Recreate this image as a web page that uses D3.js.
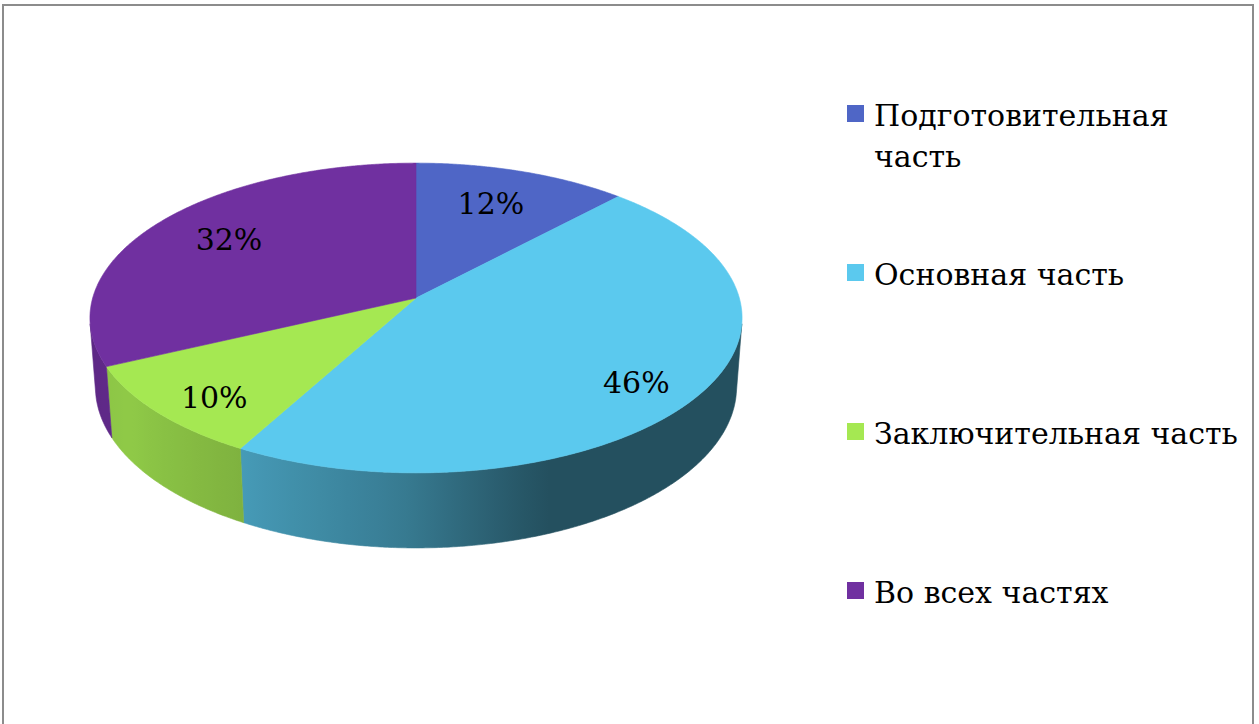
<!DOCTYPE html>
<html>
<head>
<meta charset="utf-8">
<script src="https://cdn.jsdelivr.net/npm/d3@7"></script>
<style>
  html, body { margin: 0; padding: 0; background: #fff; }
  svg { display: block; }
  text { font-family: "DejaVu Serif", serif; }
</style>
</head>
<body>
<svg id="chart" width="1259" height="724"></svg>
<script>
// Share of exercises by part of the lesson
const categories = ["Подготовительная часть", "Основная часть", "Заключительная часть", "Во всех частях"];
const legendLines = [["Подготовительная", "часть"], ["Основная часть"], ["Заключительная часть"], ["Во всех частях"]];
const values = [12, 46, 10, 32];
const sliceColors = ["#4f66c6", "#5bc9ee", "#a5e852", "#7030a0"];

const svg = d3.select("#chart");
const fontSize = 30;

// outer frame of the chart area
svg.append("rect")
  .attr("x", 3).attr("y", 5)
  .attr("width", 1250).attr("height", 760)
  .attr("fill", "#fff")
  .attr("stroke", "#8c8c8c")
  .attr("stroke-width", 2);

// ---- perspective camera for the 3D pie ----
const cx = 416, cy = 298;              // screen position of the pie centre
const elev = 28.1 * Math.PI / 180;     // camera elevation
const R = 1, D = 6.835, focal = 2210;  // radius, camera distance, focal length
const thick = 0.244;                   // height of the pie disc

function project(x, y, z) {
  const depth = D - y * Math.sin(elev) - z * Math.cos(elev);
  return [cx + focal * x / depth,
          cy - focal * (y * Math.cos(elev) - z * Math.sin(elev)) / depth];
}
function rim(theta, y) {
  return project(R * Math.cos(theta), y, R * Math.sin(theta));
}
function arcPoints(t0, t1, y) {
  const n = Math.max(2, Math.ceil(Math.abs(t1 - t0) / (0.4 * Math.PI / 180)));
  return d3.range(n + 1).map(i => rim(t0 + (t1 - t0) * i / n, y));
}

// pie layout: angles clockwise from 12 o'clock -> world angle (0 = right, +90 = front)
const pie = d3.pie().sort(null).value(d => d)(values);
const slices = pie.map((p, i) => ({
  i, value: p.value,
  t0: p.startAngle - Math.PI / 2,
  t1: p.endAngle - Math.PI / 2,
  mid: (p.startAngle + p.endAngle) / 2
}));

const line = d3.line();
const defs = svg.append("defs");

// side lighting across the front rim (degrees -> brightness)
const light = d3.scaleLinear()
  .domain([0, 70, 93, 119, 145, 171])
  .range([0.40, 0.40, 0.62, 0.77, 0.87, 0.82])
  .clamp(true);
function shade(col, k) {
  const c = d3.rgb(col);
  return d3.rgb(c.r * k, c.g * k, c.b * k).formatHex();
}

// visible (front-facing) part of the cylinder wall
const sMin = Math.asin(R / (D * Math.cos(elev)));
const visLo = sMin, visHi = Math.PI - sMin;

const walls = svg.append("g");
slices.forEach(s => {
  const a = Math.max(s.t0, visLo), b = Math.min(s.t1, visHi);
  if (b <= a) return;
  const xl = rim(b, 0)[0], xr = rim(a, 0)[0];
  const g = defs.append("linearGradient")
    .attr("id", "wall" + s.i)
    .attr("gradientUnits", "userSpaceOnUse")
    .attr("x1", xl).attr("y1", 0).attr("x2", xr).attr("y2", 0);
  d3.range(25).forEach(j => {
    const t = b + (a - b) * j / 24;
    g.append("stop")
      .attr("offset", (rim(t, 0)[0] - xl) / (xr - xl))
      .attr("stop-color", shade(sliceColors[s.i], light(t * 180 / Math.PI)));
  });
  const pts = arcPoints(a, b, 0).concat(arcPoints(b, a, -thick));
  walls.append("path")
    .attr("d", line(pts) + "Z")
    .attr("fill", "url(#wall" + s.i + ")")
    .attr("stroke", "url(#wall" + s.i + ")")
    .attr("stroke-width", 0.6);
});

// top faces
const tops = svg.append("g");
slices.forEach(s => {
  const pts = [project(0, 0, 0)].concat(arcPoints(s.t0, s.t1, 0));
  tops.append("path")
    .attr("d", line(pts) + "Z")
    .attr("fill", sliceColors[s.i])
    .attr("stroke", sliceColors[s.i])
    .attr("stroke-width", 0.6);
});

// percentage labels, placed on the top ellipse at the slice mid-angle
const rx = rim(0, 0)[0] - cx;
const ry = (rim(Math.PI / 2, 0)[1] - rim(-Math.PI / 2, 0)[1]) / 2;
const labelR = m => 0.76 - 0.14 * Math.cos(m);
const fmt = d => d + "%";
svg.append("g").selectAll("text")
  .data(slices)
  .join("text")
  .attr("x", s => cx + rx * labelR(s.mid) * Math.sin(s.mid))
  .attr("y", s => cy + 2 - 1.07 * ry * labelR(s.mid) * Math.cos(s.mid))
  .attr("dy", "0.36em")
  .attr("text-anchor", "middle")
  .attr("font-size", fontSize)
  .attr("fill", "#000")
  .text(s => fmt(s.value));

// legend
const legendY = d3.scaleLinear().domain([0, 3]).range([126, 603]);
const legend = svg.append("g");
categories.forEach((c, i) => {
  const y = legendY(i);
  legend.append("rect")
    .attr("x", 847).attr("y", y - 21)
    .attr("width", 17).attr("height", 17)
    .attr("fill", sliceColors[i]);
  const t = legend.append("text")
    .attr("x", 874).attr("y", y)
    .attr("font-size", fontSize)
    .attr("fill", "#000");
  legendLines[i].forEach((ln, k) => {
    t.append("tspan").attr("x", 874).attr("dy", k === 0 ? 0 : 41).text(ln);
  });
});
</script>
</body>
</html>
